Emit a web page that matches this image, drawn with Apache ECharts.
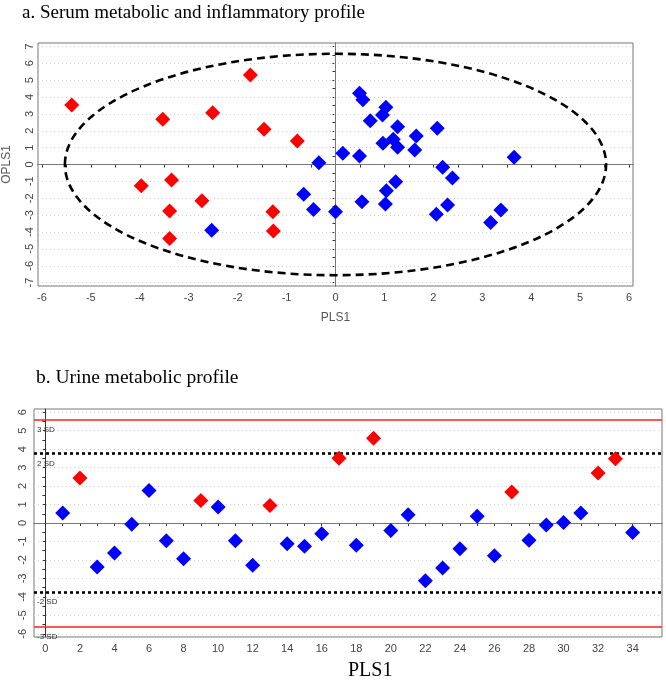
<!DOCTYPE html>
<html>
<head>
<meta charset="utf-8">
<script src="https://cdn.jsdelivr.net/npm/echarts@6/dist/echarts.min.js"></script>
<style>html,body{margin:0;padding:0;background:#fff}#c{width:666px;height:682px}</style>
</head>
<body>
<div id="c"></div>
<script>
// ---- Panel a: serum OPLS scores ----
const serumRed = [[-5.39,3.53],[-3.53,2.68],[-2.51,3.07],[-1.74,5.31],[-1.46,2.09],[-0.78,1.39],
  [-3.97,-1.26],[-3.35,-0.92],[-2.73,-2.15],[-3.39,-2.76],[-3.39,-4.38],[-1.28,-2.80],[-1.27,-3.94]];
const serumBlue = [[-0.34,0.11],[0.15,0.66],[0.49,4.22],[0.56,3.83],[1.03,3.39],[0.96,2.94],[0.71,2.60],
  [1.27,2.24],[2.08,2.15],[1.65,1.69],[0.97,1.26],[1.18,1.49],[1.27,1.02],[1.62,0.86],[0.49,0.50],
  [3.65,0.43],[2.19,-0.17],[2.39,-0.80],[1.23,-1.02],[1.04,-1.56],[0.54,-2.21],[1.02,-2.34],
  [2.06,-2.95],[2.29,-2.40],[3.38,-2.70],[3.17,-3.43],[0.00,-2.80],[-2.53,-3.90],[-0.65,-1.77],[-0.45,-2.66]];
const hotelling = [[0, 0, 5.53, 6.56]]; // centre x, centre y, semi-axis x, semi-axis y
const aXLabels = [-6,-5,-4,-3,-2,-1,0,1,2,3,4,5,6];
const aYLabels = [-7,-6,-5,-4,-3,-2,-1,0,1,2,3,4,5,6,7];
const aXTicks = [-6,-5.5,-5,-4.5,-4,-3.5,-3,-2.5,-2,-1.5,-1,-0.5,0,0.5,1,1.5,2,2.5,3,3.5,4,4.5,5,5.5,6];
const aYTicks = [-7,-6.5,-6,-5.5,-5,-4.5,-4,-3.5,-3,-2.5,-2,-1.5,-1,-0.5,0,0.5,1,1.5,2,2.5,3,3.5,4,4.5,5,5.5,6,6.5,7];

// ---- Panel b: urine PLS scores ----
const urineIndex = [1,2,3,4,5,6,7,8,9,10,11,12,13,14,15,16,17,18,19,20,21,22,23,24,25,26,27,28,29,30,31,32,33,34];
const urineScores = [0.54,2.43,-2.38,-1.62,-0.07,1.76,-0.96,-1.93,1.22,0.86,-0.96,-2.29,0.95,-1.12,-1.26,-0.58,
  3.51,-1.21,4.59,-0.40,0.45,-3.12,-2.43,-1.39,0.36,-1.77,1.68,-0.94,-0.11,0.03,0.54,2.70,3.48,-0.51];
const urineGroup = ['B','R','B','B','B','B','B','B','R','B','B','B','R','B','B','B',
  'R','B','R','B','B','B','B','B','B','B','R','B','B','B','B','R','R','B'];
const sd2 = 3.75, sd3 = 5.6;
const bXLabels = [0,2,4,6,8,10,12,14,16,18,20,22,24,26,28,30,32,34];
const bXTicks = [0,1,2,3,4,5,6,7,8,9,10,11,12,13,14,15,16,17,18,19,20,21,22,23,24,25,26,27,28,29,30,31,32,33,34,35];
const bYLabels = [-6,-5,-4,-3,-2,-1,0,1,2,3,4,5,6];
const bYTicks = [-6,-5.5,-5,-4.5,-4,-3.5,-3,-2.5,-2,-1.5,-1,-0.5,0,0.5,1,1.5,2,2.5,3,3.5,4,4.5,5,5.5,6];

const RED = '#ff0000', BLUE = '#0000ff';
const sans = 'Liberation Sans, Arial, sans-serif';
const serif = 'Liberation Serif, Times New Roman, serif';

const urineRed = [], urineBlue = [];
urineIndex.forEach((x, i) => (urineGroup[i] === 'R' ? urineRed : urineBlue).push([x, urineScores[i]]));

const gridLine = {color: '#cfcfcf', width: 1, type: [1, 3]};
const aGridData = aYLabels.filter(v => v !== 0).map(v => ({yAxis: v, lineStyle: gridLine}));
const bGridData = bYLabels.filter(v => v !== 0).map(v => ({yAxis: v, lineStyle: gridLine}));

function axisCommon(labels, ticks, rotate, margin) {
  return {
    axisLine: {show: true, lineStyle: {color: '#444', width: 1}},
    axisTick: {show: true, inside: false, length: 3, customValues: ticks, lineStyle: {color: '#333'}},
    axisLabel: {customValues: labels, rotate: rotate, margin: margin, fontSize: 11, color: '#444', fontFamily: sans},
    splitLine: {show: false}
  };
}

const chart = echarts.init(document.getElementById('c'), null, {renderer: 'canvas'});
chart.setOption({
  animation: false,
  backgroundColor: '#fff',
  title: [
    {text: 'a. Serum metabolic and inflammatory profile', left: 22, top: 4, padding: 0,
     textStyle: {fontFamily: serif, fontSize: 19, fontWeight: 'normal', color: '#000'}},
    {text: 'b. Urine metabolic profile', left: 36, top: 368, padding: 0,
     textStyle: {fontFamily: serif, fontSize: 19.5, fontWeight: 'normal', color: '#000'}},
    {text: 'PLS1', left: 348, top: 661, padding: 0,
     textStyle: {fontFamily: serif, fontSize: 20, fontWeight: 'normal', color: '#000'}}
  ],
  grid: [
    {left: 38, top: 43, width: 595, height: 243, show: true, borderColor: '#777', borderWidth: 1,
     backgroundColor: '#fff', outerBoundsMode: 'none', containLabel: false},
    {left: 34, top: 409, width: 628, height: 228, show: true, borderColor: '#777', borderWidth: 1,
     backgroundColor: '#fff', outerBoundsMode: 'none', containLabel: false}
  ],
  xAxis: [
    Object.assign({type: 'value', gridIndex: 0, min: -6.08, max: 6.08,
      name: 'PLS1', nameLocation: 'middle', nameGap: 26,
      nameTextStyle: {fontFamily: sans, fontSize: 12, color: '#555'}}, axisCommon(aXLabels, aXTicks, 0, 6)),
    Object.assign({type: 'value', gridIndex: 1, min: -0.66, max: 35.7}, axisCommon(bXLabels, bXTicks, 0, 6))
  ],
  yAxis: [
    Object.assign({type: 'value', gridIndex: 0, min: -7.2, max: 7.2,
      name: 'OPLS1', nameLocation: 'middle', nameGap: 25, nameRotate: 90,
      nameTextStyle: {fontFamily: sans, fontSize: 12, color: '#555'}}, axisCommon(aYLabels, aYTicks, 90, 3)),
    Object.assign({type: 'value', gridIndex: 1, min: -6.17, max: 6.17}, axisCommon(bYLabels, bYTicks, 90, 6))
  ],
  series: [
    // panel a: grid lines and zero lines
    {type: 'scatter', xAxisIndex: 0, yAxisIndex: 0, data: [], silent: true,
     markLine: {symbol: 'none', silent: true, label: {show: false},
       data: aGridData.concat([
         {yAxis: 0, lineStyle: {color: '#777', width: 1, type: 'solid'}},
         {xAxis: 0, lineStyle: {color: '#777', width: 1, type: 'solid'}}
       ])}},
    // Hotelling ellipse
    {type: 'custom', xAxisIndex: 0, yAxisIndex: 0, data: hotelling, silent: true, clip: true, z: 6,
     renderItem: function (params, api) {
       const c = api.coord([api.value(0), api.value(1)]);
       const s = api.size([api.value(2), api.value(3)]);
       return {type: 'ellipse', shape: {cx: c[0], cy: c[1], rx: s[0], ry: s[1]},
         style: {fill: null, stroke: '#000', lineWidth: 2.6, lineDash: [8, 5]}};
     }},
    {type: 'scatter', xAxisIndex: 0, yAxisIndex: 0, data: serumBlue, symbol: 'diamond', symbolSize: 15, z: 10,
     itemStyle: {color: BLUE, opacity: 1}},
    {type: 'scatter', xAxisIndex: 0, yAxisIndex: 0, data: serumRed, symbol: 'diamond', symbolSize: 15, z: 10,
     itemStyle: {color: RED, opacity: 1}},

    // panel b: grid lines, zero lines, SD limits
    {type: 'scatter', xAxisIndex: 1, yAxisIndex: 1, data: [], silent: true,
     markLine: {symbol: 'none', silent: true, label: {show: false},
       data: bGridData.concat([
         {yAxis: 0, lineStyle: {color: '#777', width: 1, type: 'solid'}},
         {xAxis: 0, lineStyle: {color: '#333', width: 1, type: 'solid'}}
       ])}},
    {type: 'scatter', xAxisIndex: 1, yAxisIndex: 1, data: [], silent: true,
     markLine: {symbol: 'none', silent: true,
       label: {show: true, position: 'insideStartBottom', distance: [3, 6], fontSize: 8, color: '#333', fontFamily: sans},
       data: [
         {yAxis: sd3, label: {formatter: '3 SD'}, lineStyle: {color: '#ff2020', width: 1.5, type: 'solid'}},
         {yAxis: sd2, label: {formatter: '2 SD'}, lineStyle: {color: '#000', width: 2.6, type: [3, 3]}},
         {yAxis: -sd2, label: {formatter: '-2 SD'}, lineStyle: {color: '#000', width: 2.6, type: [3, 3]}},
         {yAxis: -sd3, label: {formatter: '-3 SD'}, lineStyle: {color: '#ff2020', width: 1.5, type: 'solid'}}
       ]}},
    {type: 'scatter', xAxisIndex: 1, yAxisIndex: 1, data: urineBlue, symbol: 'diamond', symbolSize: 15, z: 10,
     itemStyle: {color: BLUE, opacity: 1}},
    {type: 'scatter', xAxisIndex: 1, yAxisIndex: 1, data: urineRed, symbol: 'diamond', symbolSize: 15, z: 10,
     itemStyle: {color: RED, opacity: 1}}
  ]
});
</script>
</body>
</html>
